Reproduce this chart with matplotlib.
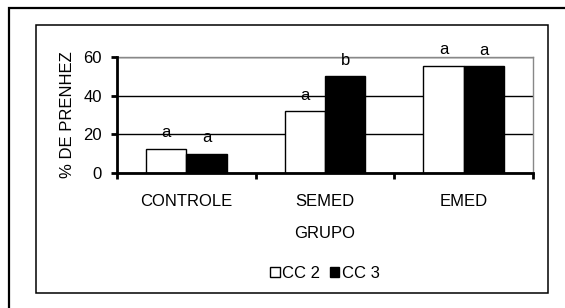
import matplotlib
matplotlib.use("Agg")
import matplotlib.pyplot as plt
from matplotlib.patches import Rectangle
import numpy as np

plt.rcParams['font.family'] = ['Liberation Sans', 'DejaVu Sans']

groups = ["CONTROLE", "SEMED", "EMED"]
cc2 = [12.5, 32, 55.6]
cc3 = [10, 50, 55.3]
letters_cc2 = ["a", "a", "a"]
letters_cc3 = ["a", "b", "a"]
yticks = [0, 20, 40, 60]

W, H = 565, 308
fs = 12
fig = plt.figure(figsize=(W / 100, H / 100), dpi=100)

# outer and inner frames (pixel coords)
def px_rect(x0, y0, x1, y1, lw):
    return Rectangle((x0 / W, 1 - y1 / H), (x1 - x0) / W, (y1 - y0) / H,
                     transform=fig.transFigure, fill=False,
                     edgecolor="black", linewidth=lw)

fig.patches.append(px_rect(9, 8, 580, 320, 1.6))
fig.patches.append(px_rect(36, 25, 548, 293, 1.1))

ax = fig.add_axes([117 / W, 1 - 173 / H, (533 - 117) / W, (173 - 57) / H])

x = np.arange(len(groups))
bw = 0.29
b1 = ax.bar(x - bw / 2, cc2, bw, color="white", edgecolor="black", linewidth=1, label="CC 2", zorder=3)
b2 = ax.bar(x + bw / 2, cc3, bw, color="black", edgecolor="black", linewidth=1, label="CC 3", zorder=3)

for bars, labs in [(b1, letters_cc2), (b2, letters_cc3)]:
    for r, t in zip(bars, labs):
        ax.annotate(t, (r.get_x() + r.get_width() / 2, r.get_height()),
                    xytext=(0, 11.5), textcoords="offset points",
                    ha="center", va="center", fontsize=fs, zorder=4)

ax.set_xlim(-0.5, 2.5)
ax.set_ylim(0, 60)
ax.set_yticks(yticks)
ax.yaxis.grid(True, color="black", linewidth=1)
ax.set_axisbelow(True)

ax.set_xticks([-0.5, 0.5, 1.5, 2.5])
ax.set_xticklabels([])
ax.set_xticks(x, minor=True)
ax.set_xticklabels(groups, minor=True)
ax.tick_params(axis="x", which="major", direction="out", length=4, width=2)
ax.tick_params(axis="x", which="minor", length=0, pad=15, labelsize=fs)
ax.tick_params(axis="y", direction="out", length=4, width=2, pad=7, labelsize=fs)

for s in ["left", "bottom"]:
    ax.spines[s].set_linewidth(2)
    ax.spines[s].set_zorder(5)
for s in ["top", "right"]:
    ax.spines[s].set_color("#888888")
    ax.spines[s].set_linewidth(1)

ax.set_xlabel("GRUPO", fontsize=fs, labelpad=12)
ax.set_ylabel("% DE PRENHEZ", fontsize=fs, labelpad=6)

fig.legend(handles=[b1, b2], loc="center", bbox_to_anchor=(325 / W, 1 - 273 / H),
           ncol=2, frameon=False, fontsize=fs, handlelength=0.55, handleheight=0.55,
           handletextpad=0.15, columnspacing=0.6, borderpad=0)

fig.savefig("out.png", dpi=100)
